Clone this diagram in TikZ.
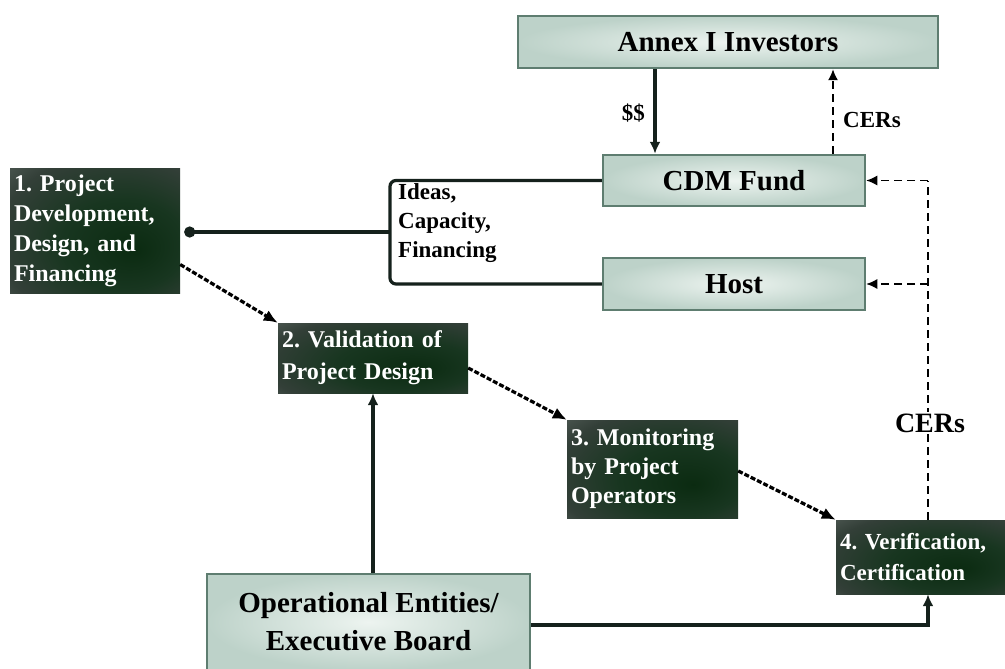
\documentclass[tikz,border=0pt]{standalone}
\usepackage{fontspec}
\setmainfont{Liberation Serif}
\usetikzlibrary{arrows.meta}
\definecolor{lightin}{HTML}{EDF4F0}
\definecolor{lightout}{HTML}{BDD2C9}
\definecolor{lightedge}{HTML}{5E7D70}
\definecolor{linecol}{HTML}{15211C}
\definecolor{dka}{HTML}{0B2B11}
\definecolor{dkb}{HTML}{183620}
\definecolor{dkc}{HTML}{333F38}
\definecolor{dkd}{HTML}{5F6964}
\definecolor{dke}{HTML}{B2BAB6}
\pgfdeclareradialshading{darkshade}{\pgfpoint{12bp}{-8bp}}{%
  color(0bp)=(dka);
  color(18bp)=(dkb);
  color(34bp)=(dkc);
  color(48bp)=(dkd);
  color(62bp)=(dke)}
\tikzset{
  lightbox/.style={draw=lightedge, line width=2.5pt, shading=radial, inner color=lightin, outer color=lightout,
    inner sep=0pt, font=\bfseries\fontsize{29}{34}\selectfont, align=center},
  darkbox/.style={shading=darkshade, text=white,
    inner sep=0pt, font=\bfseries\frenchspacing\fontsize{24}{30}\selectfont, align=left},
  conn/.style={draw=linecol, line width=3.2pt},
  tip/.style={-{Latex[length=12pt,width=11pt]}},
  flow/.style={draw=black, line width=3.2pt, dash pattern=on 5pt off 2pt, -{Latex[length=14pt,width=12pt]}},
  cer/.style={draw=black, line width=1.3pt, dash pattern=on 8pt off 5pt},
  ctip/.style={-{Latex[length=11pt,width=10pt]}},
  lbl/.style={font=\bfseries\fontsize{23}{29}\selectfont, inner sep=1pt},
}
\begin{document}
\begin{tikzpicture}[x=1pt,y=-1pt]
\useasboundingbox (0,0) rectangle (1005,669);
% light boxes
\node[lightbox, minimum width=420pt, minimum height=52pt] (annex) at (728,42) {Annex I Investors};
\node[lightbox, minimum width=262pt, minimum height=51pt] (cdm) at (734,180.5) {CDM Fund};
\node[lightbox, minimum width=262pt, minimum height=52pt] (host) at (734,284) {Host};
\node[lightbox, minimum width=323pt, minimum height=96pt, font=\bfseries\fontsize{29}{38}\selectfont] (oe) at (368.5,622) {Operational Entities/\\Executive Board};
% dark boxes
\node[darkbox, minimum width=170pt, minimum height=125pt, text width=162pt] (b1) at (95,230.5) {1. Project\\Development,\\Design, and\\Financing};
\node[darkbox, minimum width=190pt, minimum height=70pt, text width=182pt, font=\bfseries\frenchspacing\fontsize{24}{32}\selectfont] (b2) at (373,358) {2. Validation of\\Project Design};
\node[darkbox, minimum width=171pt, minimum height=98pt, text width=163pt, font=\bfseries\frenchspacing\fontsize{24}{29}\selectfont] (b3) at (652.5,469) {3. Monitoring\\by Project\\Operators};
\node[darkbox, minimum width=169pt, minimum height=74pt, text width=161pt, font=\bfseries\frenchspacing\fontsize{23}{31}\selectfont] (b4) at (920.5,557) {4. Verification,\\Certification};
% coordinates
\coordinate (brk) at (390,232);
\coordinate (a1) at (655,0);
\coordinate (a2) at (833,0);
\coordinate (c4) at (928,0);
% bracket connector
\draw[conn, rounded corners=6pt] (cdm.west) -- (brk |- cdm.west) -- (brk |- host.west) -- (host.west);
\draw[conn, {Circle[length=11pt]}-] ([xshift=4pt]b1.east |- brk) -- (brk);
\node[lbl, anchor=north west, align=left] (ideas) at (397,182) {Ideas,\\Capacity,\\Financing};
% $$ and CERs to investors
\draw[conn, tip] (annex.south -| a1) -- (cdm.north -| a1);
\node[lbl, anchor=east] (dollar) at (646,113) {\$\$};
\draw[cer, line width=1.5pt, ctip] (cdm.north -| a2) -- (annex.south -| a2);
\node[lbl, anchor=west] (cers1) at (842,120) {CERs};
% CERs from verification
\draw[cer] (b4.north -| c4) -- (c4 |- cdm.east);
\draw[cer, ctip] (c4 |- cdm.east) -- (cdm.east);
\draw[cer, ctip] (c4 |- host.east) -- (host.east);
\node[font=\bfseries\fontsize{28}{32}\selectfont, fill=white, inner sep=2pt] (cers2) at (930,423) {CERs};
% process flow
\draw[flow] ([yshift=-34pt]b1.east) -- (b2.north west);
\draw[flow] ([yshift=-10pt]b2.east) -- (b3.north west);
\draw[flow] ([yshift=-2pt]b3.east) -- (b4.north west);
% operational entities links
\draw[conn, tip] (oe.north -| b2.south) -- (b2.south);
\draw[conn, tip] ([yshift=-3pt]oe.east) -- ([yshift=-3pt]c4 |- oe.east) -- (b4.south -| c4);
\end{tikzpicture}
\end{document}
